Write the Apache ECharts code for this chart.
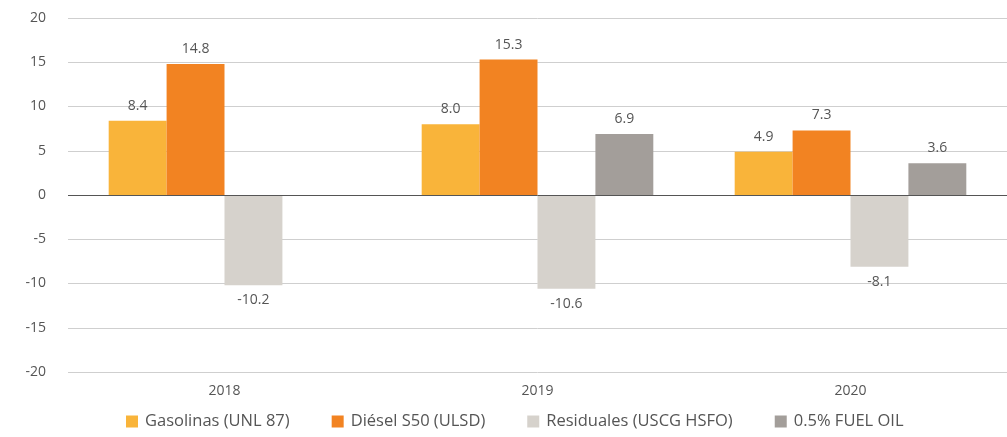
<!DOCTYPE html>
<html>
<head>
<meta charset="utf-8">
<style>
  html, body { margin: 0; padding: 0; background: #fff; }
  #main { width: 1007px; height: 437px; }
</style>
<script src="https://cdn.jsdelivr.net/npm/echarts@6/dist/echarts.min.js"></script>
</head>
<body>
<div id="main"></div>
<script>
// datos del gráfico
const years = ['2018', '2019', '2020']
const gasolinas = [8.4, 8.0, 4.9]
const diesel = [14.8, 15.3, 7.3]
const residuales = [-10.2, -10.6, -8.1]
const fuelOil = [null, 6.9, 3.6]
const seriesNames = ['Gasolinas (UNL 87)', 'Diésel S50 (ULSD)', 'Residuales (USCG HSFO)', '0.5% FUEL OIL']
const colors = ['#f9b43a', '#f28322', '#d6d2cc', '#a39e9a']

const font = 'Open Sans'
const textColor = '#555'

function makeSeries(name, data, color, withZeroLine) {
  const s = {
    name: name,
    type: 'bar',
    barGap: '0%',
    barCategoryGap: '26%',
    itemStyle: { color: color },
    label: {
      show: true,
      color: textColor,
      fontFamily: font,
      fontSize: 14,
      distance: 8,
      formatter: (p) => p.value.toFixed(1),
      position: 'top'
    }
  }
  // etiquetas negativas debajo de la barra
  s.data = data.map((v) =>
    v !== null && v < 0 ? { value: v, label: { position: 'bottom' } } : v
  )
  if (withZeroLine) {
    s.markLine = {
      silent: true,
      symbol: 'none',
      label: { show: false },
      lineStyle: { color: '#555', type: 'solid', width: 1 },
      data: [{ yAxis: 0 }]
    }
  }
  return s
}

var myChart = echarts.init(document.getElementById('main'))

var option = {
  animation: false,
  grid: { left: 68, right: 0, top: 18, bottom: 65 },
  legend: {
    bottom: 2,
    left: 121,
    itemWidth: 12,
    itemHeight: 12,
    itemGap: 42,
    icon: 'rect',
    textStyle: { color: textColor, fontFamily: font, fontSize: 16.5, padding: [0, 0, 0, 2] },
    data: seriesNames
  },
  xAxis: {
    type: 'category',
    data: years,
    axisLine: { show: false, onZero: false },
    axisTick: { show: false },
    axisLabel: { color: textColor, fontFamily: font, fontSize: 14, margin: 12 }
  },
  yAxis: {
    type: 'value',
    min: -20,
    max: 20,
    interval: 5,
    axisLine: { show: false },
    axisTick: { show: false },
    axisLabel: { color: textColor, fontFamily: font, fontSize: 14, margin: 22 },
    splitLine: { lineStyle: { color: '#cfcfcf', width: 1 } }
  },
  series: [
    makeSeries(seriesNames[0], gasolinas, colors[0], true),
    makeSeries(seriesNames[1], diesel, colors[1], false),
    makeSeries(seriesNames[2], residuales, colors[2], false),
    makeSeries(seriesNames[3], fuelOil, colors[3], false)
  ]
}

myChart.setOption(option)
</script>
</body>
</html>
